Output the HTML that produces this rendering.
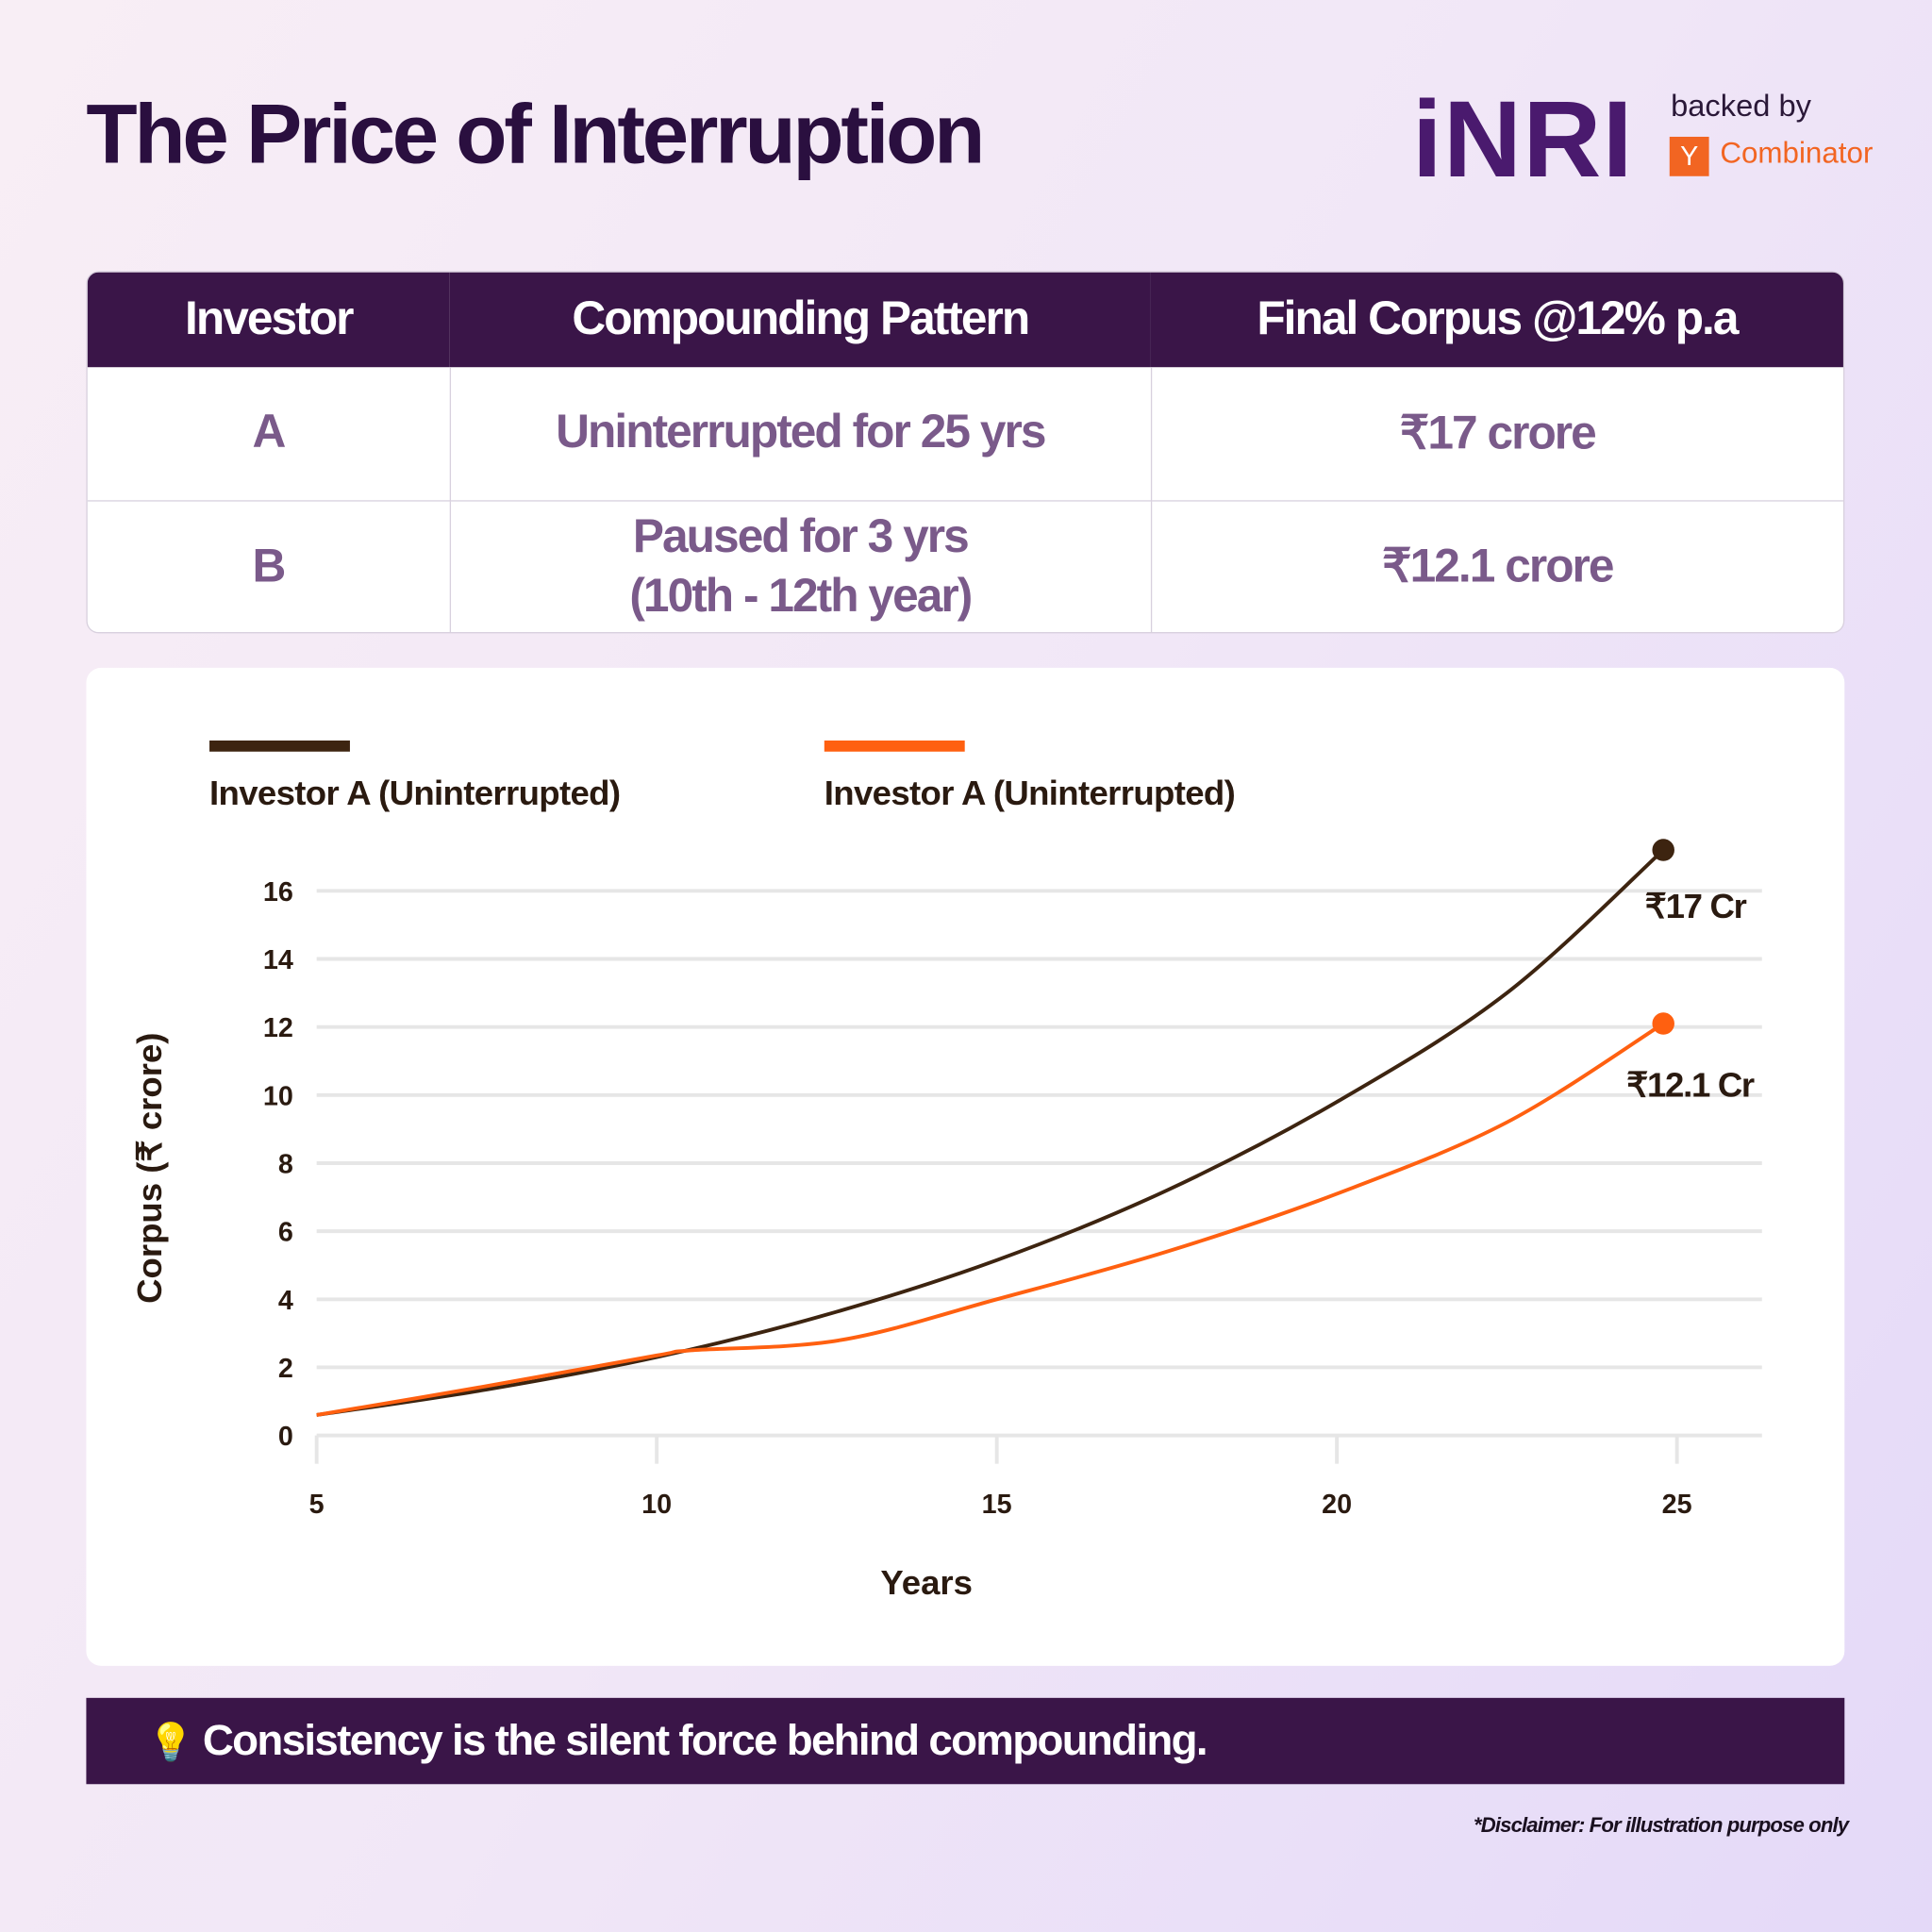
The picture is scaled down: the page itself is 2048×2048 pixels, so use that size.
<!DOCTYPE html>
<html><head><meta charset="utf-8">
<style>
html,body{margin:0;padding:0;width:2048px;height:2048px;overflow:hidden}
body{background:linear-gradient(120deg,#f8eef5 0%,#f1e7f7 50%,#e4d9f8 100%);font-family:"Liberation Sans",sans-serif}
#s{position:absolute;left:0;top:0;width:1568px;height:1568px;transform:scale(1.306122);transform-origin:0 0}
.abs{position:absolute}
table{border-collapse:collapse}
</style></head><body>
<div id="s">
<div class="abs" style="left:70px;top:70px;font-size:68px;font-weight:bold;color:#2a0f3f;letter-spacing:-2.5px">The Price of Interruption</div>
<div class="abs" style="left:1146px;top:62px;font-size:88px;font-weight:bold;color:#4a1a6e;letter-spacing:1px">iNRI</div>
<div class="abs" style="left:1356px;top:72px;font-size:25px;color:#2a1838">backed by</div>
<div class="abs" style="left:1355px;top:111px;width:32px;height:32px;background:#f26522;color:#fff;font-size:22px;text-align:center;line-height:32px">Y</div>
<div class="abs" style="left:1396px;top:111px;font-size:24px;color:#f26522">Combinator</div>

<div class="abs" style="left:70px;top:220px;width:1427px;height:294px;border-radius:10px;overflow:hidden;background:#fff;border:1px solid #d8d0de;box-sizing:border-box">
<table style="width:100%;height:100%;text-align:center">
<tr style="background:#3a1548;color:#fff;font-size:38px;font-weight:bold;height:77px;letter-spacing:-1.5px">
<td style="width:292px">Investor</td><td style="width:567px">Compounding Pattern</td><td>Final Corpus @12% p.a</td></tr>
<tr style="height:108px;color:#7a5a8a;font-size:38px;font-weight:bold;letter-spacing:-1.5px">
<td style="border-right:1px solid #d8d0de;border-bottom:1px solid #d8d0de">A</td><td style="border-right:1px solid #d8d0de;border-bottom:1px solid #d8d0de">Uninterrupted for 25 yrs</td><td style="border-bottom:1px solid #d8d0de">₹17 crore</td></tr>
<tr style="height:108px;color:#7a5a8a;font-size:38px;font-weight:bold;letter-spacing:-1.5px;line-height:48px">
<td style="border-right:1px solid #d8d0de">B</td><td style="border-right:1px solid #d8d0de">Paused for 3 yrs<br>(10th - 12th year)</td><td>₹12.1 crore</td></tr>
</table></div>

<div class="abs" style="left:70px;top:542px;width:1427px;height:810px;background:#fff;border-radius:12px"></div>
<svg class="abs" style="left:0;top:0" width="1568" height="1568" font-family="Liberation Sans, sans-serif">
<g id="grid"></g><g id="ticks"></g><g id="lines"></g>
<rect x="170" y="601" width="114" height="9" fill="#3d2410"/>
<text x="170" y="653" font-size="28" font-weight="bold" fill="#2a1a10" letter-spacing="-0.5">Investor A (Uninterrupted)</text>
<rect x="669" y="601" width="114" height="9" fill="#ff6010"/>
<text x="669" y="653" font-size="28" font-weight="bold" fill="#2a1a10" letter-spacing="-0.5">Investor A (Uninterrupted)</text>
<text x="752" y="1294" font-size="28" font-weight="bold" fill="#2a1a10" text-anchor="middle">Years</text>
<text transform="translate(131,948) rotate(-90)" font-size="28" font-weight="bold" fill="#2a1a10" text-anchor="middle">Corpus (₹ crore)</text>
<text x="1335" y="745" font-size="28" font-weight="bold" fill="#2a1a10" letter-spacing="-1">₹17 Cr</text>
<text x="1320" y="890" font-size="28" font-weight="bold" fill="#2a1a10" letter-spacing="-1">₹12.1 Cr</text>
</svg>

<div class="abs" style="left:70px;top:1378px;width:1427px;height:70px;background:#3a1548;color:#fff;font-size:35px;font-weight:bold;line-height:70px;letter-spacing:-1.3px;box-sizing:border-box;padding-left:50px"><span style="font-size:30px">💡</span> Consistency is the silent force behind compounding.</div>
<div class="abs" style="right:68px;top:1472px;font-size:17px;font-weight:bold;font-style:italic;color:#1a1020;letter-spacing:-0.7px">*Disclaimer: For illustration purpose only</div>
</div>
<script>
const yTicks=[0,2,4,6,8,10,12,14,16];
const xTicks=[5,10,15,20,25];
const yearsA=[5,7.5,10,12.5,15,17.5,20,22.5,24.8];
const valuesA=[0.6,1.35,2.3,3.55,5.15,7.2,9.8,13.0,17.2];
const yearsB=[5,7.5,10,10.5,12.7,15,17.5,20,22.5,24.8];
const valuesB=[0.6,1.45,2.35,2.5,2.8,4.0,5.4,7.1,9.2,12.1];
const X=v=>257+(v-5)*55.2, Y=v=>1165-v*27.625;
const NS='http://www.w3.org/2000/svg';
function mk(t,a,p){const e=document.createElementNS(NS,t);for(const k in a)e.setAttribute(k,a[k]);p.appendChild(e);return e;}
const g=document.getElementById('grid'),tk=document.getElementById('ticks'),ln=document.getElementById('lines');
yTicks.forEach(v=>{
 const l=mk('line',{x1:257,x2:1430,y1:Y(v),y2:Y(v),stroke:'#e6e6e6','stroke-width':3},g);
 
 
 const t=mk('text',{x:238,y:Y(v)+8,'text-anchor':'end','font-size':22,'font-weight':'bold',fill:'#2a1a10'},tk);
 t.textContent=v;
 
 
});
xTicks.forEach(v=>{
 const l=mk('line',{x1:X(v),x2:X(v),y1:1165,y2:1188,stroke:'#e6e6e6','stroke-width':3},tk);
 
 
 const t=mk('text',{x:X(v),y:1228,'text-anchor':'middle','font-size':22,'font-weight':'bold',fill:'#2a1a10'},tk);
 t.textContent=v;
 
 
});
function path(xs,ys){let d='';for(let i=0;i<xs.length;i++){const px=X(xs[i]),py=Y(ys[i]);if(i===0){d='M'+px+' '+py;}else{const p0x=X(xs[i-1]),p0y=Y(ys[i-1]);const pm=i>1?[X(xs[i-2]),Y(ys[i-2])]:[p0x,p0y];const pn=i<xs.length-1?[X(xs[i+1]),Y(ys[i+1])]:[px,py];const c1x=p0x+(px-pm[0])/6,c1y=p0y+(py-pm[1])/6,c2x=px-(pn[0]-p0x)/6,c2y=py-(pn[1]-p0y)/6;d+=` C${c1x} ${c1y} ${c2x} ${c2y} ${px} ${py}`;}}return d;}
const pa=mk('path',{d:path(yearsA,valuesA),fill:'none',stroke:'#3d2410','stroke-width':3},ln);


const pb=mk('path',{d:path(yearsB,valuesB),fill:'none',stroke:'#ff6010','stroke-width':3},ln);


const da=mk('circle',{cx:X(yearsA[yearsA.length-1]),cy:Y(valuesA[valuesA.length-1]),r:9,fill:'#3d2410'},ln);


const db=mk('circle',{cx:X(yearsB[yearsB.length-1]),cy:Y(valuesB[valuesB.length-1]),r:9,fill:'#ff6010'},ln);


</script>
</body></html>
